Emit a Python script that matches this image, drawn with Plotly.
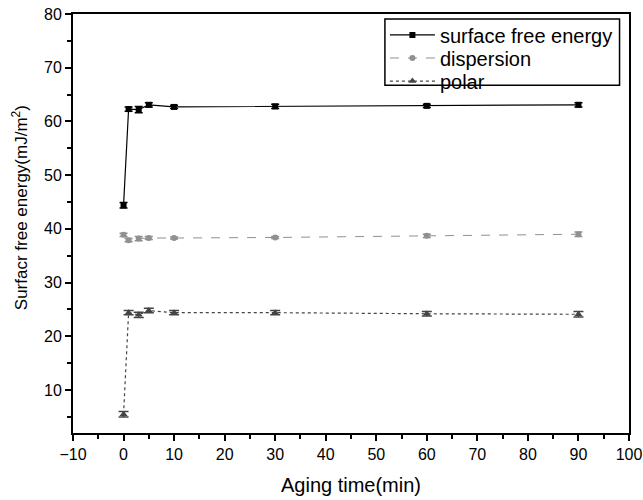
import plotly.graph_objects as go

## Data
time_min = [0, 1, 3, 5, 10, 30, 60, 90]
surface_free_energy = [44.4, 62.3, 62.2, 63.1, 62.7, 62.8, 62.9, 63.1]
surface_err = [0.5, 0.4, 0.6, 0.4, 0.3, 0.4, 0.3, 0.4]
dispersion = [38.9, 37.9, 38.2, 38.3, 38.3, 38.4, 38.7, 39.0]
dispersion_err = [0.3, 0.3, 0.4, 0.3, 0.2, 0.2, 0.3, 0.4]
polar = [5.5, 24.4, 24.0, 24.8, 24.4, 24.4, 24.2, 24.1]
polar_err = [0.5, 0.4, 0.5, 0.4, 0.4, 0.4, 0.4, 0.5]

FONT = "Liberation Sans, Arial"

fig = go.Figure()
fig.add_trace(go.Scatter(x=time_min, y=surface_free_energy, name="surface free energy",
                         mode="lines+markers", legend="legend", showlegend=True,
                         line=dict(color="black", width=1.2),
                         marker=dict(symbol="square", size=6, color="black"),
                         error_y=dict(type="data", array=surface_err, color="black", thickness=1.5, width=4)))
fig.add_trace(go.Scatter(x=time_min, y=dispersion, name="dispersion",
                         mode="lines+markers", legend="legend2", showlegend=True,
                         line=dict(color="#909090", width=1, dash="dash"),
                         marker=dict(symbol="circle", size=6, color="#909090"),
                         error_y=dict(type="data", array=dispersion_err, color="#909090", thickness=1.5, width=4)))
fig.add_trace(go.Scatter(x=time_min, y=polar, name="polar",
                         mode="lines+markers", legend="legend3", showlegend=True,
                         line=dict(color="#444444", width=1.2, dash="dot"),
                         marker=dict(symbol="triangle-up", size=7, color="#444444"),
                         error_y=dict(type="data", array=polar_err, color="#444444", thickness=1.5, width=5)))

axis_common = dict(showline=True, linecolor="black", linewidth=2, mirror=True,
                   ticks="outside", ticklen=6, tickwidth=2, tickcolor="black",
                   showgrid=False, zeroline=False, automargin=False,
                   tickfont=dict(family=FONT, size=16, color="black"))

fig.update_xaxes(range=[-10, 100], tickmode="linear", tick0=-10, dtick=10,
                 minor=dict(ticks="outside", ticklen=4, tickwidth=1.5, tickcolor="black", dtick=5),
                 title=dict(text="Aging time(min)", font=dict(family=FONT, size=20, color="black"), standoff=16),
                 **axis_common)
fig.update_yaxes(range=[2, 80], tickmode="linear", tick0=10, dtick=10,
                 minor=dict(ticks="outside", ticklen=4, tickwidth=1.5, tickcolor="black", dtick=5),
                 **axis_common)

# y title as annotation: in the original it sits a bit above the plot centre
fig.add_annotation(text="Surfacr free energy(mJ/m<sup>2</sup>)", xref="paper", yref="paper",
                   x=-0.095, y=0.537, textangle=-90, showarrow=False,
                   xanchor="center", yanchor="middle",
                   font=dict(family=FONT, size=17, color="black"))

# one legend per row so the rows sit as tight as in the original; a box drawn round them
leg_style = dict(x=0.561, xanchor="left", yanchor="middle", borderwidth=0,
                 bgcolor="rgba(0,0,0,0)", itemwidth=45, visible=True,
                 font=dict(family=FONT, size=20, color="black"))
fig.update_layout(width=643, height=500, template="simple_white", showlegend=True,
                  margin=dict(l=73, r=14, t=14, b=67),
                  plot_bgcolor="white", paper_bgcolor="white",
                  legend=dict(y=0.950, **leg_style),
                  legend2=dict(y=0.895, **leg_style),
                  legend3=dict(y=0.840, **leg_style))
fig.add_shape(type="rect", xref="paper", yref="paper", layer="below",
              x0=0.561, x1=0.983, y0=0.830, y1=0.988,
              fillcolor="rgba(0,0,0,0)", opacity=1,
              line=dict(color="black", width=1.5))

fig.write_html("out.html", config={"displayModeBar": False},
               post_script="document.documentElement.style.overflow='hidden';"
                           "document.body.style.margin='0';document.body.style.overflow='hidden';")
